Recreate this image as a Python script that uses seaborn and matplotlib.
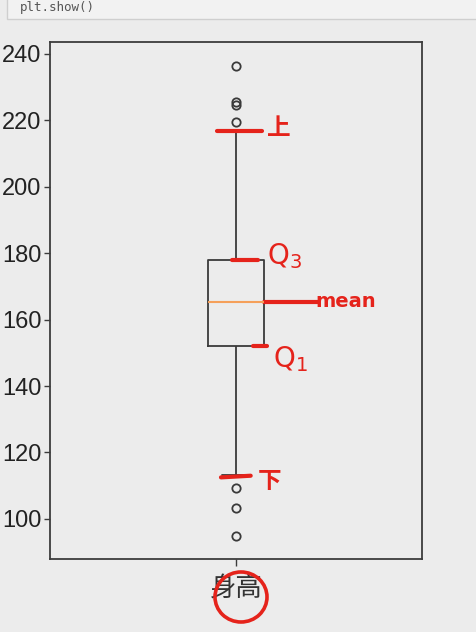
import numpy as np
import pandas as pd
import matplotlib
matplotlib.use("Agg")
import matplotlib.pyplot as plt
from matplotlib import font_manager
from matplotlib.patches import Ellipse, Rectangle
import seaborn as sns

# ---- data ----
category = ["身高"]
heights = [95.0, 103.4, 109.3, 113.3, 140.0, 152.0, 156.0, 159.0, 161.5, 163.5,
           165.4, 168.0, 171.0, 174.0, 176.0, 178.0, 216.7, 219.6, 224.6, 225.4,
           236.5]
yticks = [100, 120, 140, 160, 180, 200, 220, 240]

df = pd.DataFrame({"group": category * len(heights), "value": heights})

names = {f.name for f in font_manager.fontManager.ttflist}
narrow = "Liberation Sans Narrow" if "Liberation Sans Narrow" in names else "Liberation Sans"

bg = "#ececec"
sns.set_style("ticks", rc={"axes.facecolor": bg, "figure.facecolor": bg,
                           "axes.edgecolor": "#3c3c3c", "xtick.color": "#3c3c3c",
                           "ytick.color": "#3c3c3c"})
plt.rcParams["font.family"] = ["Noto Sans CJK SC", "DejaVu Sans"]

fig = plt.figure(figsize=(4.77, 6.32), dpi=100)
ax = fig.add_axes([0.1048, 0.1155, 0.7792, 0.818])

sns.boxplot(data=df, x="group", y="value", ax=ax, width=0.15, fill=False,
            color="#3a3a3a", linewidth=1.3, whis=1.5,
            medianprops={"color": "#f5a05a", "linewidth": 1.5},
            flierprops={"marker": "o", "markersize": 6, "markerfacecolor": "none",
                        "markeredgecolor": "#3a3a3a", "markeredgewidth": 1.3},
            capprops={"color": "#3a3a3a"}, capwidths=0.075)

ax.set_xlim(-0.5, 0.5)
ax.set_yticks(yticks)
ax.set_xlabel("")
ax.set_ylabel("")
for s in ax.spines.values():
    s.set_visible(True)
    s.set_linewidth(1.3)
ax.tick_params(axis="y", labelsize=17, length=4, width=1, pad=2, labelcolor="#222222")
ax.tick_params(axis="x", labelsize=19, length=5, width=1, pad=7, labelcolor="#333333")
for lab in ax.get_yticklabels():
    lab.set_fontfamily(narrow)

# ---- red hand annotations, anchored on the box statistics ----
vals = np.array(heights)
q1, med, q3 = np.percentile(vals, [25, 50, 75])
iqr = q3 - q1
hi = vals[vals <= q3 + 1.5 * iqr].max()
lo = vals[vals >= q1 - 1.5 * iqr].min()
red = "#e5231b"
lw = 3
ax.plot([-0.05, 0.07], [hi, hi], color=red, lw=lw, solid_capstyle="round")
ax.plot([-0.01, 0.06], [q3, q3], color=red, lw=lw, solid_capstyle="round")
ax.plot([0.075, 0.22], [med, med], color=red, lw=lw, solid_capstyle="round")
ax.plot([0.045, 0.085], [q1, q1], color=red, lw=lw, solid_capstyle="round")
ax.plot([-0.04, 0.04], [lo - 0.8, lo - 0.3], color=red, lw=lw, solid_capstyle="round")

ax.text(0.085, hi + 1, "上", color=red, fontsize=17, ha="left", va="center",
        fontweight="bold")
ax.text(0.085, q3 + 1, "Q$_3$", color=red, fontsize=20, ha="left", va="center",
        family="DejaVu Sans")
ax.text(0.215, med, "mean", color=red, fontsize=14, ha="left", va="center",
        family="DejaVu Sans", fontweight="bold")
ax.text(0.1, q1 - 4, "Q$_1$", color=red, fontsize=20, ha="left", va="center",
        family="DejaVu Sans")
ax.text(0.06, lo - 2, "下", color=red, fontsize=17, ha="left", va="center",
        fontweight="bold")

# circle around the category label (figure pixel coordinates)
W, H = 477, 632
fig.patches.append(Ellipse((241 / W, 1 - 597 / H), 52 / W, 50 / H,
                           transform=fig.transFigure, fill=False,
                           edgecolor=red, lw=2.6))

# top notebook cell remnant
fig.patches.append(Rectangle((7 / W, 1 - 19 / H), 1, 19 / H + 0.01,
                             transform=fig.transFigure, facecolor="#f2f2f2",
                             edgecolor="#cfcfcf", lw=1))
fig.text(20 / W, 1 - 8 / H, "plt.show()", fontsize=9, color="#555555",
         family="DejaVu Sans Mono", va="center", ha="left")

fig.savefig("out.png", dpi=100, facecolor=bg)
